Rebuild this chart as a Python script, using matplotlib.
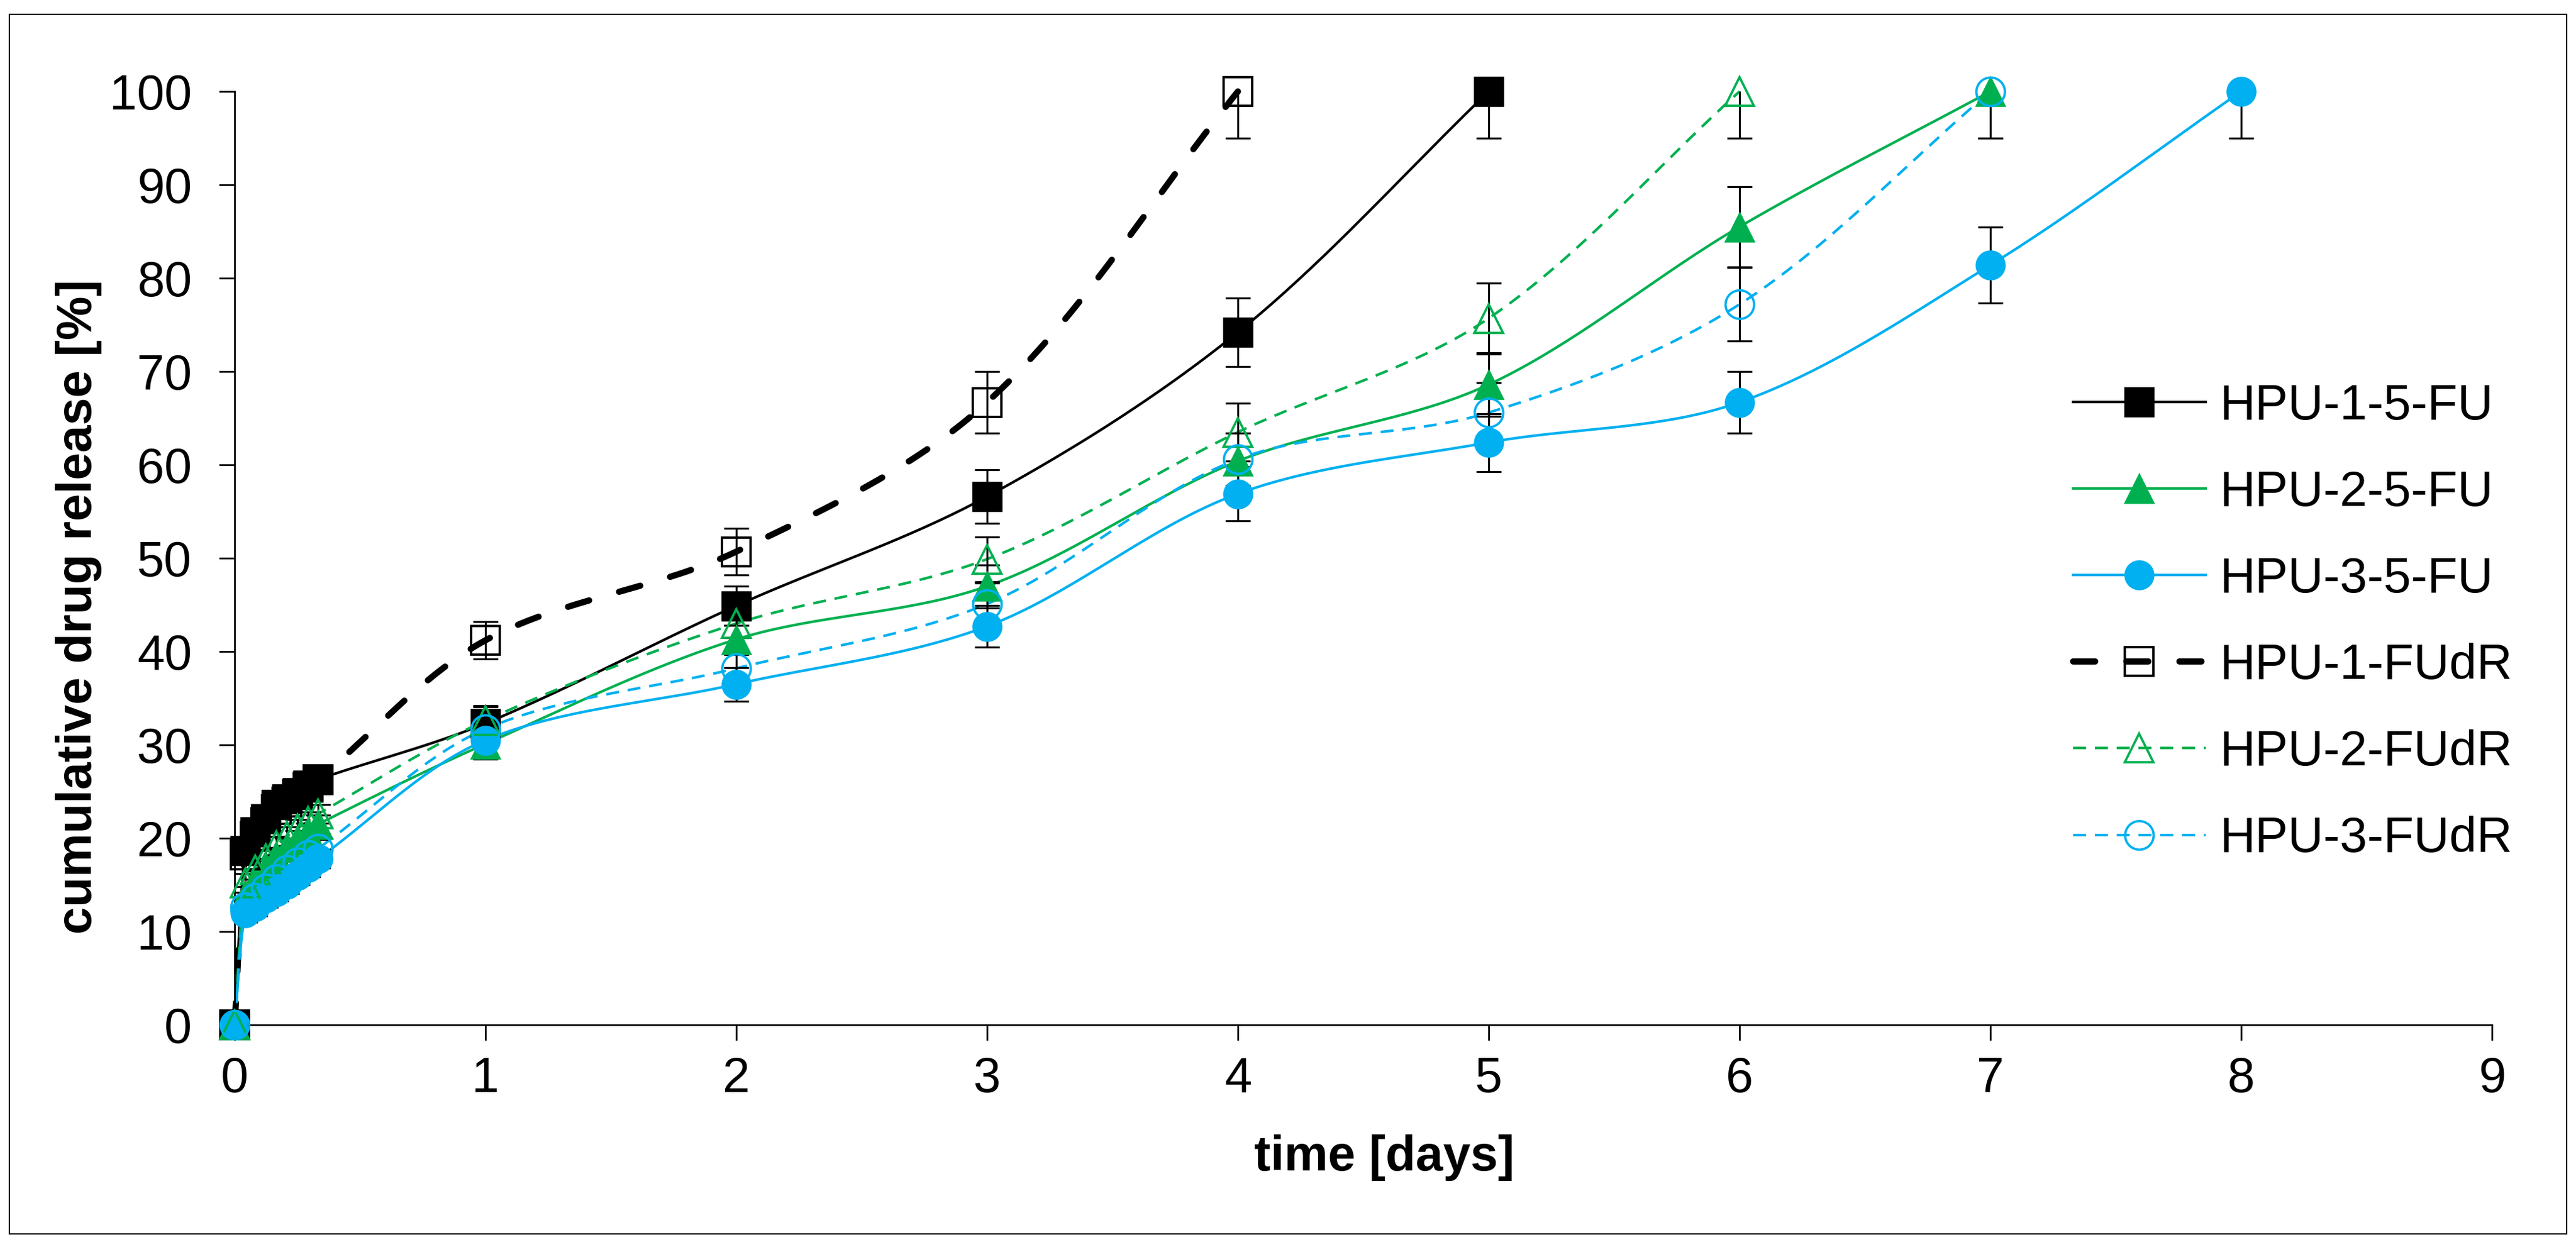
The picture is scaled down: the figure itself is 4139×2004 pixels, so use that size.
import numpy as np
import matplotlib
matplotlib.use('Agg')
import matplotlib.pyplot as plt
from matplotlib.lines import Line2D
from matplotlib.patches import Rectangle

plt.rcParams['font.family'] = ['Liberation Sans', 'DejaVu Sans']
plt.rcParams['lines.scale_dashes'] = False

# ---------------- data ----------------
t_early = [0, 0.042, 0.083, 0.125, 0.167, 0.208, 0.25, 0.292, 0.333]

hpu1_5fu_t = t_early + [1, 2, 3, 4, 5]
hpu1_5fu_y = [0, 18.7, 20.7, 22.1, 23.6, 24.2, 24.9, 25.7, 26.3, 32.3, 44.9, 56.6, 74.2, 100]
hpu1_5fu_e = [0, 1.0, 1.0, 1.0, 1.0, 1.0, 1.0, 1.0, 1.0, 1.9, 2.1, 2.85, 3.65, 5]

hpu2_5fu_t = t_early + [1, 2, 3, 4, 5, 6, 7]
hpu2_5fu_y = [0, 13.8, 15.5, 16.8, 18.0, 19.0, 19.8, 20.6, 21.5, 30.1, 41.3, 47.0, 60.4, 68.6, 85.5, 100]
hpu2_5fu_e = [0, 1.0, 1.0, 1.0, 1.0, 1.0, 1.0, 1.0, 1.0, 1.6, 1.5, 2.3, 3.0, 3.4, 4.3, 5]

hpu3_5fu_t = t_early + [1, 2, 3, 4, 5, 6, 7, 8]
hpu3_5fu_y = [0, 12.0, 12.7, 13.6, 14.3, 15.1, 16.0, 16.9, 17.8, 30.5, 36.5, 42.7, 56.9, 62.4, 66.7, 81.4, 100]
hpu3_5fu_e = [0, 1.0, 1.0, 1.0, 1.0, 1.0, 1.0, 1.0, 1.0, 1.5, 1.8, 2.2, 2.9, 3.1, 3.3, 4.1, 5]

hpu1_fudr_t = t_early + [1, 2, 3, 4]
hpu1_fudr_y = [0, 18.2, 20.2, 21.7, 23.1, 23.9, 24.7, 25.5, 26.3, 41.2, 50.7, 66.7, 100]
hpu1_fudr_e = [0, 1.0, 1.0, 1.0, 1.0, 1.0, 1.0, 1.0, 1.0, 2.0, 2.5, 3.3, 5]

hpu2_fudr_t = t_early + [1, 2, 3, 4, 5, 6]
hpu2_fudr_y = [0, 15.2, 16.6, 17.8, 19.2, 20.2, 21.0, 21.8, 22.6, 32.6, 43.0, 49.9, 63.5, 75.7, 100]
hpu2_fudr_e = [0, 1.0, 1.0, 1.0, 1.0, 1.0, 1.0, 1.0, 1.0, 1.5, 1.5, 2.4, 3.1, 3.8, 5]

hpu3_fudr_t = t_early + [1, 2, 3, 4, 5, 6, 7]
hpu3_fudr_y = [0, 12.6, 13.6, 14.6, 15.6, 16.6, 17.4, 18.2, 18.9, 31.7, 38.2, 45.1, 60.6, 65.6, 77.2, 100]
hpu3_fudr_e = [0, 1.0, 1.0, 1.0, 1.0, 1.0, 1.0, 1.0, 1.0, 1.5, 1.5, 2.2, 2.8, 3.2, 3.9, 5]

labels = ["HPU-1-5-FU", "HPU-2-5-FU", "HPU-3-5-FU", "HPU-1-FUdR", "HPU-2-FUdR", "HPU-3-FUdR"]
x_ticks = [0, 1, 2, 3, 4, 5, 6, 7, 8, 9]
y_ticks = [0, 10, 20, 30, 40, 50, 60, 70, 80, 90, 100]

BLACK = '#000000'
GREEN = '#00B050'
BLUE = '#00B0F0'


def smooth(x, y, n=40, sx=403.0, sy=15.0):
    """Excel-like smoothed line (chord-weighted cardinal Bezier) in screen-like space."""
    P = np.column_stack([np.asarray(x, float) * sx, np.asarray(y, float) * sy])
    N = len(P)
    out = []
    for i in range(N - 1):
        p0 = P[i - 1] if i > 0 else P[i]
        p1 = P[i]
        p2 = P[i + 1]
        p3 = P[i + 2] if i + 2 < N else P[i + 1]
        d01 = np.linalg.norm(p1 - p0)
        d12 = np.linalg.norm(p2 - p1)
        d23 = np.linalg.norm(p3 - p2)
        w1 = d12 / (d01 + d12) if (d01 + d12) > 0 else 0.5
        w2 = d12 / (d12 + d23) if (d12 + d23) > 0 else 0.5
        c1 = p1 + (p2 - p0) * w1 / 3.0
        c2 = p2 - (p3 - p1) * w2 / 3.0
        s = np.linspace(0, 1, n)[:, None]
        if i < N - 2:
            s = s[:-1]
        B = ((1 - s) ** 3) * p1 + 3 * ((1 - s) ** 2) * s * c1 + 3 * (1 - s) * s ** 2 * c2 + s ** 3 * p2
        out.append(B)
    B = np.vstack(out)
    return B[:, 0] / sx, B[:, 1] / sy


fig = plt.figure(figsize=(4139 / 300, 2004 / 300), dpi=300)
ax = fig.add_axes([377 / 4139, 1 - 1647 / 2004, (4004 - 377) / 4139, 1500 / 2004])

series = [
    (hpu1_5fu_t, hpu1_5fu_y, hpu1_5fu_e, dict(color=BLACK, lw=1.0, ls='-', marker='s', mfc=BLACK)),
    (hpu2_5fu_t, hpu2_5fu_y, hpu2_5fu_e, dict(color=GREEN, lw=1.0, ls='-', marker='^', mfc=GREEN)),
    (hpu3_5fu_t, hpu3_5fu_y, hpu3_5fu_e, dict(color=BLUE, lw=1.0, ls='-', marker='o', mfc=BLUE)),
    (hpu1_fudr_t, hpu1_fudr_y, hpu1_fudr_e, dict(color=BLACK, lw=2.4, ls=(0, (8.5, 12.0)), marker='s', mfc='none')),
    (hpu2_fudr_t, hpu2_fudr_y, hpu2_fudr_e, dict(color=GREEN, lw=1.0, ls=(0, (5.0, 3.4)), marker='^', mfc='none')),
    (hpu3_fudr_t, hpu3_fudr_y, hpu3_fudr_e, dict(color=BLUE, lw=1.0, ls=(0, (5.0, 3.4)), marker='o', mfc='none')),
]

MS = 11
handles = []
for k, (t, y, e, st) in enumerate(series):
    xs, ys = smooth(t, y)
    capstyle = 'round' if st['lw'] > 2 else 'butt'
    ln, = ax.plot(xs, ys, color=st['color'], lw=st['lw'], ls=st['ls'],
                  dash_capstyle=capstyle, solid_capstyle='round',
                  zorder=2 + k * 0.01, clip_on=False)
    ax.errorbar(t, y, yerr=e, fmt='none', ecolor=BLACK, elinewidth=0.75,
                capsize=4.7, capthick=0.75, zorder=2.5 + k * 0.01)
    ax.plot(t, y, ls='none', marker=st['marker'], ms=MS, mfc=st['mfc'],
            mec=st['color'], mew=0.9 if st['mfc'] == 'none' else 0.6,
            zorder=3 + k * 0.01, clip_on=False)
    handles.append(Line2D([], [], color=st['color'], lw=st['lw'], ls=st['ls'],
                          dash_capstyle=capstyle, marker=st['marker'], ms=MS,
                          mfc=st['mfc'], mec=st['color'],
                          mew=0.9 if st['mfc'] == 'none' else 0.6))

ax.set_xlim(0, 9)
ax.set_ylim(0, 100)
ax.set_xticks(x_ticks)
ax.set_yticks(y_ticks)
for side in ('top', 'right'):
    ax.spines[side].set_visible(False)
for side in ('left', 'bottom'):
    ax.spines[side].set_linewidth(0.65)
    ax.spines[side].set_color(BLACK)
ax.tick_params(axis='both', direction='out', length=6, width=0.65, labelsize=19, colors=BLACK)
ax.tick_params(axis='y', pad=10.5)
ax.tick_params(axis='x', pad=6)

ax.set_xlabel('time [days]', fontsize=19, fontweight='bold')
ax.set_ylabel('cumulative drug release [%]', fontsize=19, fontweight='bold')
ax.xaxis.set_label_coords((2224 - 377) / 3627, (1647 - 1861) / 1500)
ax.xaxis.label.set_va('center')
ax.yaxis.set_label_coords((127 - 377) / 3627, (1647 - 975) / 1500)
ax.yaxis.label.set_va('center')

leg = fig.legend(handles, labels, loc='center left',
                 bbox_to_anchor=(3331 / 4139, 1 - 1001 / 2004),
                 frameon=False, fontsize=19, handlelength=2.69, handletextpad=0.28,
                 labelspacing=0.81, borderpad=0, borderaxespad=0, numpoints=1)

fig.patches.append(Rectangle((15 / 4139, 1 - 1983 / 2004), (4124 - 15) / 4139, (1983 - 23) / 2004,
                             transform=fig.transFigure, fill=False, lw=0.5, ec=BLACK))

fig.savefig('out.png', dpi=300)
